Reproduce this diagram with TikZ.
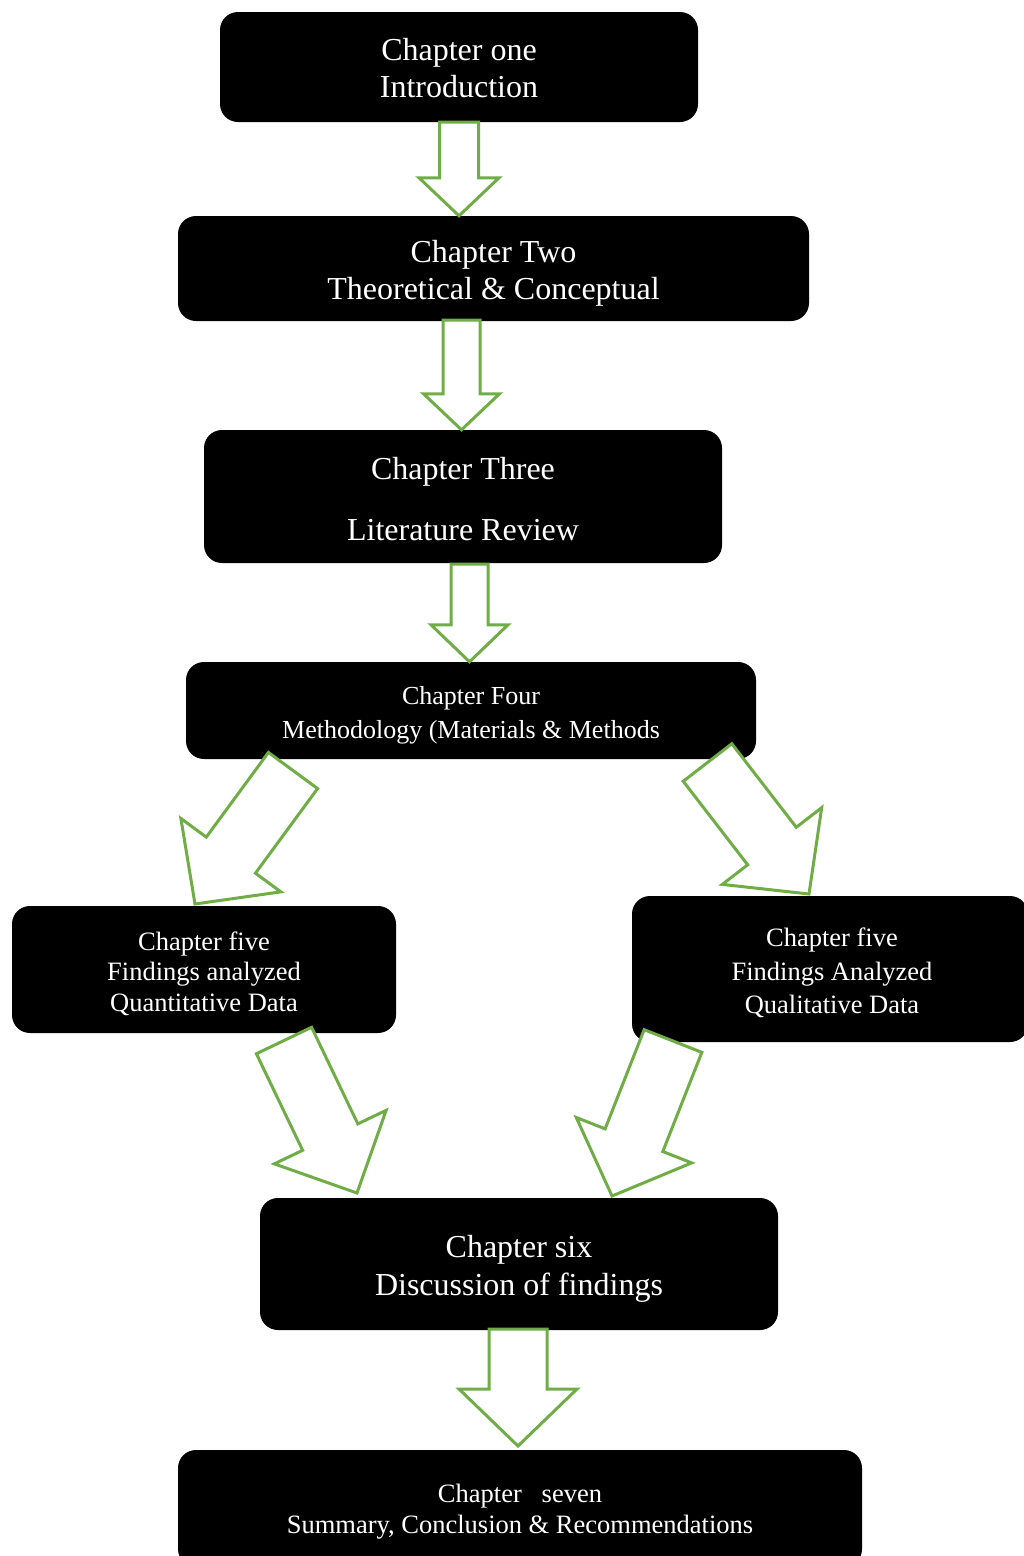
\documentclass[tikz,border=0pt]{standalone}
\usepackage{fontspec}
\setmainfont{Liberation Serif}
\usetikzlibrary{calc}
\definecolor{arrowgreen}{RGB}{112,173,71}
\tikzset{
  chapter/.style={fill=black, rounded corners=18pt, inner sep=0pt},
  chaptext/.style={text=white, align=center, inner sep=0pt},
  blockarrow/.style={draw=arrowgreen, fill=white, line width=3pt, line join=miter},
}
% Block arrow from start #1 to tip #2: shaft half width #3, head half width #4, head length #5
\newcommand\blockarrow[5]{%
  \coordinate (ba-q) at ($(#2)!#5!(#1)$);
  \draw[blockarrow] ($(#1)!#3!90:(#2)$) -- ($(ba-q)!#3!90:(#2)$) -- ($(ba-q)!#4!90:(#2)$)
    -- (#2) -- ($(ba-q)!#4!-90:(#2)$) -- ($(ba-q)!#3!-90:(#2)$) -- ($(#1)!#3!-90:(#2)$) -- cycle;
}
\begin{document}
\begin{tikzpicture}[x=1pt,y=-1pt]
\useasboundingbox (0,0) rectangle (1024,1556);
\clip (0,0) rectangle (1024,1556);
\fill[white] (0,0) rectangle (1024,1556);

% chapter boxes, each with its title set as a centred label
\node[chapter, minimum width=478pt, minimum height=110pt,
  label={[chaptext, font=\fontsize{32pt}{37pt}\selectfont, yshift=-1pt]center:{Chapter one\\Introduction}}]
  (ch1) at (459,67) {};
\node[chapter, minimum width=631pt, minimum height=105pt,
  label={[chaptext, font=\fontsize{32pt}{37pt}\selectfont, yshift=-5pt]center:{Chapter Two\\Theoretical \& Conceptual}}]
  (ch2) at (493.5,268.5) {};
\node[chapter, minimum width=518pt, minimum height=133pt,
  label={[chaptext, font=\fontsize{32pt}{61pt}\selectfont, yshift=-3pt]center:{Chapter Three\\Literature Review}}]
  (ch3) at (463,496.5) {};
\node[chapter, minimum width=570pt, minimum height=97pt,
  label={[chaptext, font=\fontsize{26pt}{34pt}\selectfont, yshift=-5pt]center:{Chapter Four\\Methodology (Materials \& Methods}}]
  (ch4) at (471,710.5) {};
\node[chapter, minimum width=384pt, minimum height=127pt,
  label={[chaptext, font=\fontsize{26.5pt}{30.5pt}\selectfont, yshift=-4pt]center:{Chapter five\\Findings analyzed\\Quantitative Data}}]
  (ch5a) at (204,969.5) {};
\node[chapter, minimum width=396pt, minimum height=146pt,
  label={[chaptext, font=\fontsize{26.5pt}{33.5pt}\selectfont, yshift=-4pt, xshift=2pt]center:{Chapter five\\Findings Analyzed\\Qualitative Data}}]
  (ch5b) at (830,969) {};
\node[chapter, minimum width=518pt, minimum height=132pt,
  label={[chaptext, font=\fontsize{32pt}{38pt}\selectfont, yshift=-5pt]center:{Chapter six\\Discussion of findings}}]
  (ch6) at (519,1264) {};
\node[chapter, minimum width=684pt, minimum height=117pt,
  label={[chaptext, font=\fontsize{26.5pt}{31pt}\selectfont, yshift=-3pt]center:{Chapter\ \ \ seven\\Summary, Conclusion \& Recommendations}}]
  (ch7) at (520,1508.5) {};

% arrow end points
\coordinate (a1s) at (ch1.south);
\coordinate (a1t) at (ch2.north -| ch1.south);
\coordinate (a2s) at (461.5,320);
\coordinate (a2t) at (ch3.north -| a2s);
\coordinate (a3s) at (469.5,564);
\coordinate (a3t) at (ch4.north -| a3s);
\coordinate (a4ls) at (293,770.5);
\coordinate (a4lt) at (195,904);
\coordinate (a4rs) at (707.5,762.5);
\coordinate (a4rt) at (809,894);
\coordinate (a5ls) at (284,1040.5);
\coordinate (a5lt) at (357,1193);
\coordinate (a5rs) at (673,1041);
\coordinate (a5rt) at (612,1196);
\coordinate (a6s) at (518,1329);
\coordinate (a6t) at (518,1446);

% block arrows
\blockarrow{a1s}{a1t}{19.5pt}{40pt}{38pt}
\blockarrow{a2s}{a2t}{18.5pt}{38pt}{36pt}
\blockarrow{a3s}{a3t}{18.5pt}{38.5pt}{37pt}
\blockarrow{a4ls}{a4lt}{30.5pt}{62pt}{60.6pt}
\blockarrow{a4rs}{a4rt}{30.7pt}{62.8pt}{60.6pt}
\blockarrow{a5ls}{a5lt}{30.6pt}{62pt}{62pt}
\blockarrow{a5rs}{a5rt}{31pt}{62pt}{60pt}
\blockarrow{a6s}{a6t}{29pt}{59pt}{57pt}
\end{tikzpicture}
\end{document}
